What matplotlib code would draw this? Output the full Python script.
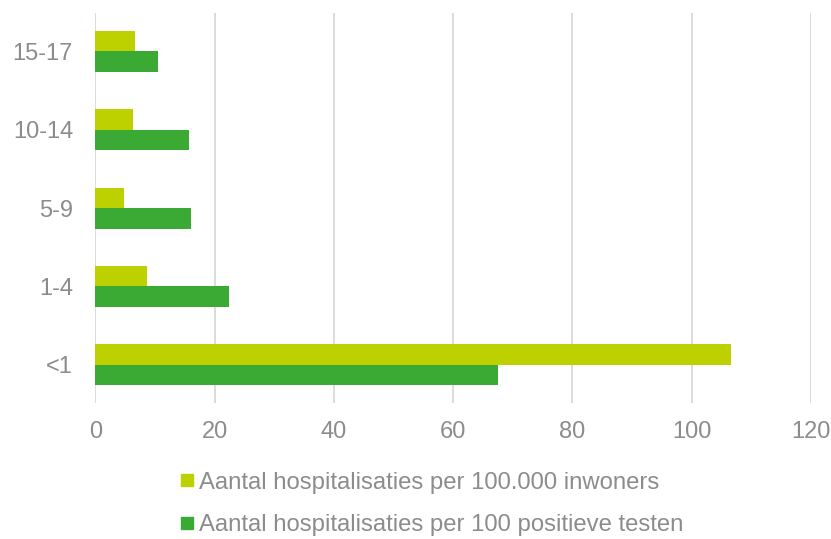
import numpy as np
import matplotlib.pyplot as plt
from matplotlib.lines import Line2D

plt.rcParams['font.family'] = ['Liberation Sans', 'DejaVu Sans']

leeftijd = ["<1", "1-4", "5-9", "10-14", "15-17"]
per_inwoners = [106.6, 8.7, 4.8, 6.3, 6.7]
per_testen = [67.5, 22.5, 16.1, 15.7, 10.5]

geel = "#BDD000"
groen = "#3BAA35"
grijs = "#8C8C8C"

fig = plt.figure(figsize=(8.31, 5.39), dpi=100)
ax = fig.add_axes([0.1146, 0.252, 0.976 - 0.1146, 0.724])

y = np.arange(len(leeftijd))
h = 0.262
ax.barh(y + h / 2, per_inwoners, height=h, color=geel, zorder=3)
ax.barh(y - h / 2, per_testen, height=h, color=groen, zorder=3)

ax.set_xlim(0, 120)
ax.set_ylim(-0.49, 4.49)
ax.set_xticks(range(0, 121, 20))
ax.set_yticks(y)
ax.set_yticklabels(leeftijd)
ax.tick_params(axis='both', length=0, labelsize=17, labelcolor=grijs)
ax.tick_params(axis='y', pad=16)
ax.tick_params(axis='x', pad=13)
ax.grid(axis='x', color='#DCDCDC', linewidth=1.4, zorder=0)
for s in ax.spines.values():
    s.set_visible(False)

handles = [
    Line2D([], [], marker='s', linestyle='', color=geel, markersize=9),
    Line2D([], [], marker='s', linestyle='', color=groen, markersize=9),
]
labels = ["Aantal hospitalisaties per 100.000 inwoners",
          "Aantal hospitalisaties per 100 positieve testen"]
fig.legend(handles, labels, loc='center', bbox_to_anchor=(0.519, 0.065),
           frameon=False, fontsize=17.2, labelcolor=grijs, handlelength=0.6,
           handletextpad=0.2, labelspacing=0.85)

fig.savefig("out.png", dpi=100)
